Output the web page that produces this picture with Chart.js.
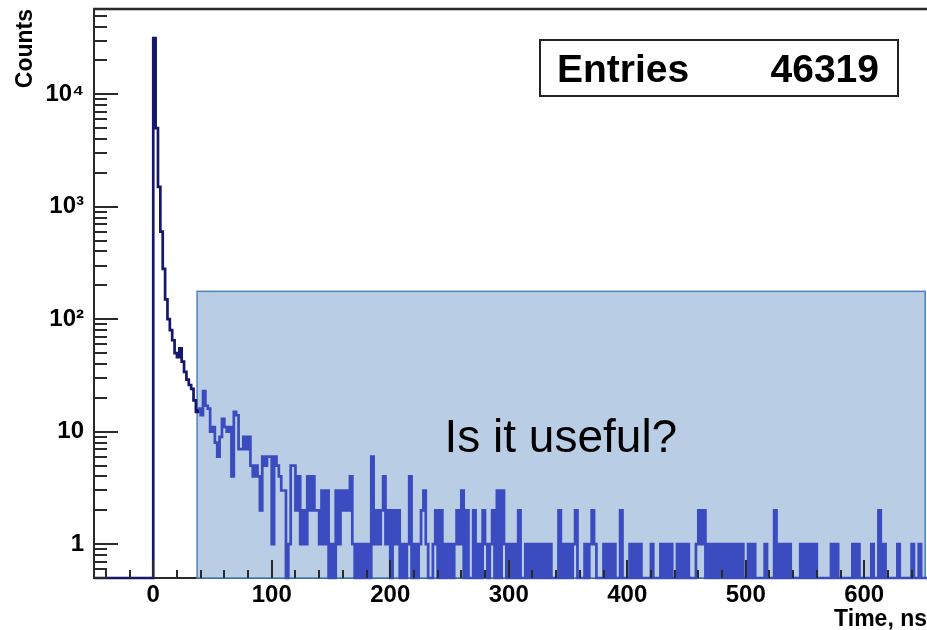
<!DOCTYPE html>
<html><head><meta charset="utf-8">
<script src="https://cdn.jsdelivr.net/npm/chart.js@4.4.0/dist/chart.umd.min.js"></script>
<style>html,body{margin:0;padding:0;background:#fff;overflow:hidden}canvas{display:block}</style>
</head><body>
<canvas id="c" width="927" height="630"></canvas>
<script>
// ---- axis ranges ----
const xMin = -50, xMax = 653;
const yMin = 0.5, yMax = 57300;
// ---- histogram binning (2 ns bins starting at -50 ns) ----
const binStart = -50, binWidth = 2;
// counts per bin (0 = empty bin)
const countsPre = [0,0,0,0,0,0,0,0,0,0,0,0,0,0,0,0,0,0,0,0,0,0,0,0,0];           // -50 .. 0 ns
const countsPeak = [31500,5000,1500,600,280,150,100,80,65,50,46,55,42,34,29,26,24,19,15]; // 0 .. 38 ns
const countsTailA = [                                                          // 38 .. 198 ns
  16,14,23,17,16,10,11,8,6,9,
  13,11,10,11,4,15,14,7,7,9,
  7,9,5,4,5,4,2,6,5,6,
  6,1,6,5,4,3,3,0,1,5,
  5,2,4,1,2,1,4,2,4,2,
  2,1,3,1,3,0,1,0,3,1,
  3,2,3,2,4,1,0,1,0,1,
  0,1,0,6,1,2,1,2,4,1];
const countsTailB = [                                                          // 198 .. 398 ns
  2,0,2,1,2,0,1,0,1,4,
  0,1,0,1,2,3,1,0,0,1,
  2,0,2,0,1,0,1,0,1,2,
  1,3,0,2,0,0,2,0,1,0,
  2,1,0,1,2,0,3,0,3,1,
  0,1,0,1,0,2,0,0,1,0,
  1,0,1,0,1,0,1,0,1,0,
  0,0,2,0,1,0,1,0,1,2,
  0,0,0,1,0,1,2,1,0,0,
  0,1,0,1,0,1,0,0,2,0];
const countsTailC = [                                                          // 398 .. 654 ns
  0,0,1,0,1,0,1,0,0,0,
  0,1,0,0,0,1,0,1,0,1,
  0,0,1,0,1,0,1,0,0,0,
  1,2,1,2,0,1,0,1,0,1,
  0,1,0,1,0,1,0,1,0,1,
  0,0,1,0,1,0,0,0,0,1,
  0,0,0,2,0,1,0,1,0,1,
  0,0,0,0,1,0,1,0,1,0,
  1,0,0,0,0,0,0,1,0,1,
  0,0,0,0,0,0,1,0,1,0,
  0,0,0,0,1,0,0,2,0,1,
  0,0,0,0,0,1,0,0,0,0,
  0,1,0,0,1,0,0,0];
// ---- ticks ----
const xTickValues = [0,100,200,300,400,500,600];
const xTickLabels = ['0','100','200','300','400','500','600'];
const yTickValues = [1,10,100,1000,10000];
const yTickLabels = ['1','10','10\u00B2','10\u00B3','10\u2074'];
// ---- texts ----
const xTitle = 'Time, ns', yTitle = 'Counts';
const statsLabel = 'Entries', statsValue = '46319';
const noteText = 'Is it useful?';
// ---- highlighted region (data units) ----
const boxX0 = 37, boxX1 = 651.5, boxYTop = 177;
const noteX = 344, noteY = 6.6;

const FONT = '"Liberation Sans", Arial, Helvetica, sans-serif';
const NAVY = '#16166a', BLUE = '#3a4cbf';

const counts = [...countsPre, ...countsPeak, ...countsTailA, ...countsTailB, ...countsTailC];
const pts = counts.map((c, i) => ({x: binStart + i * binWidth, y: c > 0 ? c : yMin}));
pts.push({x: binStart + counts.length * binWidth, y: pts[pts.length - 1].y});

const deco = {
  id: 'deco',
  beforeDatasetsDraw(chart) {
    const {ctx, chartArea: a, scales: {x, y}} = chart;
    const l = x.getPixelForValue(boxX0), r = x.getPixelForValue(boxX1), t = y.getPixelForValue(boxYTop);
    ctx.save();
    ctx.fillStyle = '#b9cde5';
    ctx.fillRect(l, t, r - l, a.bottom - t);
    ctx.strokeStyle = '#4f81bd'; ctx.lineWidth = 1.5;
    ctx.strokeRect(l, t, r - l, a.bottom - t);
    ctx.restore();
  },
  afterDatasetsDraw(chart) {
    const {ctx, chartArea: a, scales: {x, y}} = chart;
    ctx.save();
    ctx.strokeStyle = '#2a2a2a'; ctx.lineWidth = 2;
    ctx.beginPath();
    for (let v = -40; v <= xMax; v += 20) {
      const len = xTickValues.includes(v) ? 18 : 8;
      const px = Math.round(x.getPixelForValue(v));
      ctx.moveTo(px, a.bottom); ctx.lineTo(px, a.bottom - len);
    }
    for (let e = -1; e <= 4; e++) for (let m = 1; m <= 9; m++) {
      const v = m * Math.pow(10, e);
      if (v < yMin - 1e-9 || v > yMax) continue;
      const len = m === 1 ? 24 : 13;
      const py = Math.round(y.getPixelForValue(v));
      ctx.moveTo(a.left, py); ctx.lineTo(a.left + len, py);
    }
    ctx.stroke();
    ctx.lineWidth = 2.5;
    ctx.beginPath(); ctx.moveTo(a.left - 1, a.top); ctx.lineTo(a.right, a.top); ctx.stroke();
    // note text
    ctx.fillStyle = '#000';
    ctx.font = '46px ' + FONT; ctx.textAlign = 'center'; ctx.textBaseline = 'alphabetic';
    ctx.fillText(noteText, x.getPixelForValue(noteX), y.getPixelForValue(noteY));
    // stats box
    ctx.fillStyle = '#fff'; ctx.fillRect(540, 40, 358, 56);
    ctx.strokeStyle = '#222'; ctx.lineWidth = 2; ctx.strokeRect(540, 40, 358, 56);
    ctx.fillStyle = '#000'; ctx.font = 'bold 39px ' + FONT;
    ctx.textAlign = 'left'; ctx.fillText(statsLabel, 557, 82);
    ctx.textAlign = 'right'; ctx.fillText(statsValue, 879, 82);
    ctx.restore();
  }
};

new Chart(document.getElementById('c'), {
  type: 'line',
  data: { datasets: [{
    data: pts, stepped: true, borderColor: NAVY, borderWidth: 2.7, pointRadius: 0, fill: false,
    segment: { borderColor: c => c.p0.parsed.x >= boxX0 ? BLUE : NAVY },
    clip: 3
  }]},
  options: {
    responsive: false, animation: false, events: [], devicePixelRatio: 1,
    layout: { padding: { top: 9, left: 0, right: 0, bottom: 0 } },
    plugins: { legend: { display: false }, tooltip: { enabled: false } },
    scales: {
      x: {
        type: 'linear', min: xMin, max: xMax,
        grid: { display: false, drawTicks: false },
        border: { display: true, color: '#2a2a2a', width: 2 },
        afterBuildTicks: s => { s.ticks = xTickValues.map(v => ({value: v})); },
        afterFit: s => { s.height = 52; s.paddingLeft = 0; s.paddingRight = 0; },
        ticks: { autoSkip: false, maxRotation: 0, padding: 3, color: '#000',
          font: { family: FONT, size: 24, weight: 'bold' },
          callback: (v) => xTickLabels[xTickValues.indexOf(v)] },
        title: { display: true, text: xTitle, align: 'end', color: '#000', padding: {top: 0, bottom: -1},
          font: { family: FONT, size: 23, weight: 'bold', lineHeight: 1 } }
      },
      y: {
        type: 'logarithmic', min: yMin, max: yMax,
        grid: { display: false, drawTicks: false },
        border: { display: true, color: '#2a2a2a', width: 2 },
        afterBuildTicks: s => { s.ticks = yTickValues.map(v => ({value: v, major: true})); },
        afterFit: s => { s.width = 94; s.paddingTop = 0; s.paddingBottom = 0; },
        ticks: { autoSkip: false, padding: 10, color: '#000',
          font: { family: FONT, size: 24, weight: 'bold' },
          callback: (v) => yTickLabels[yTickValues.indexOf(v)] },
        title: { display: true, text: yTitle, align: 'end', color: '#000', padding: {top: 14, bottom: 0},
          font: { family: FONT, size: 23, weight: 'bold', lineHeight: 1 } }
      }
    }
  },
  plugins: [deco]
});
</script></body></html>
